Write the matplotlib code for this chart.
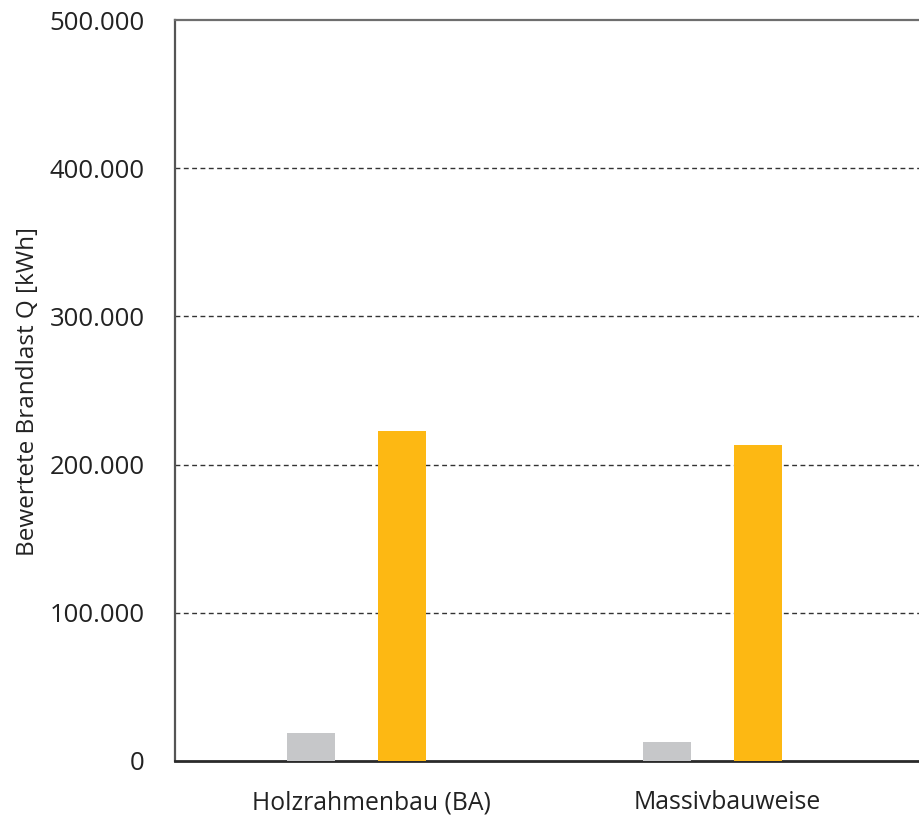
import matplotlib
matplotlib.use("Agg")
import matplotlib.pyplot as plt
import numpy as np

# Data
categories = ["Holzrahmenbau (BA)", "Massivbauweise"]
series_gray = [19000, 13000]
series_orange = [223000, 213000]
y_ticks = [0, 100000, 200000, 300000, 400000, 500000]
y_tick_labels = ["0", "100.000", "200.000", "300.000", "400.000", "500.000"]

plt.rcParams["font.family"] = ["Open Sans", "DejaVu Sans"]

W, H = 920, 816
fig = plt.figure(figsize=(W / 100, H / 100), dpi=100)
left, right, top, bottom = 175, 920, 20, 761
ax = fig.add_axes([left / W, 1 - bottom / H, (right - left) / W, (bottom - top) / H])

x = np.arange(len(categories))
bar_w = 0.135
ax.bar(x - 0.17, series_gray, width=bar_w, color="#C6C7C9", zorder=3)
ax.bar(x + 0.086, series_orange, width=bar_w, color="#FDB813", zorder=3)

ax.set_xlim(-0.552, 1.541)
ax.set_ylim(0, 500000)

ax.set_yticks(y_ticks)
ax.set_yticklabels(y_tick_labels, fontsize=18.5, color="#222222")
ax.set_xticks(x)
ax.set_xticklabels(categories, fontsize=17.8, color="#222222")
ax.tick_params(axis="y", length=0, pad=22)
ax.tick_params(axis="x", length=0, pad=21)

for v in y_ticks[1:-1]:
    ax.axhline(v, color="#333333", linewidth=1.0, linestyle=(0, (3.5, 2.5)), zorder=1)

ax.spines["right"].set_visible(False)
ax.spines["top"].set_color("#6e6e6e")
ax.spines["top"].set_linewidth(1.6)
ax.spines["left"].set_color("#555555")
ax.spines["left"].set_linewidth(1.6)
ax.spines["bottom"].set_color("#2a2a2a")
ax.spines["bottom"].set_linewidth(2.0)

fig.text(28 / W, 1 - 392 / H, "Bewertete Brandlast Q [kWh]", rotation=90,
         ha="center", va="center", fontsize=17.5, color="#222222")

fig.savefig("out.png", dpi=100)
